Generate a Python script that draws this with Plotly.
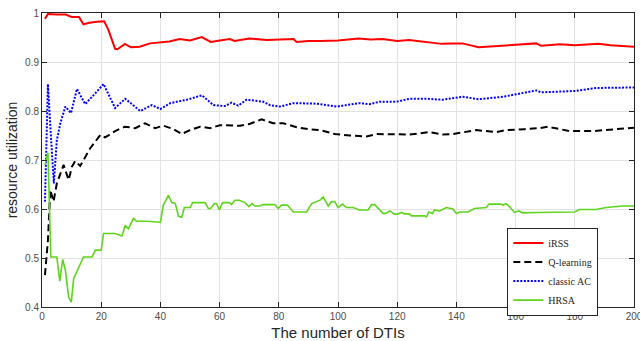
import plotly.graph_objects as go

# ---- data (x = number of DTIs, y = resource utilization) ----
irss_points = [
    (1, 0.988), (2, 0.998), (5, 0.997), (8, 0.997), (10, 0.992), (12.5, 0.992), (14, 0.977),
    (16, 0.980), (18.5, 0.982), (21, 0.983), (22.4, 0.966), (24.7, 0.927), (25.5, 0.926),
    (28, 0.937), (30, 0.930), (33, 0.931), (36.5, 0.938), (40, 0.940), (43, 0.942),
    (46.5, 0.947), (48.5, 0.946), (50, 0.944), (54, 0.951), (57, 0.941), (60, 0.944),
    (63.5, 0.947), (65, 0.943), (70, 0.948), (76, 0.945), (80, 0.946), (85, 0.947),
    (86, 0.941), (90, 0.943), (94, 0.943), (100, 0.944), (107, 0.948), (111, 0.946),
    (115, 0.947), (120, 0.943), (124, 0.945), (129, 0.941), (135, 0.937), (139, 0.938),
    (142, 0.938), (147.5, 0.930), (156, 0.933), (167, 0.938), (168.6, 0.933), (175, 0.936),
    (180, 0.934), (188, 0.937), (192, 0.934), (196, 0.933), (200, 0.931),
]

qlearning_points = [
    (1, 0.465), (2, 0.536), (2.8, 0.639), (3.9, 0.615), (5, 0.652), (6.7, 0.680), (7.3, 0.690),
    (9, 0.659), (10.1, 0.686), (11.2, 0.698), (12.9, 0.688), (16.3, 0.724), (19.7, 0.751),
    (21.3, 0.746), (24.7, 0.759), (28, 0.768), (31.5, 0.765), (34.8, 0.775), (38.2, 0.765),
    (41, 0.770), (44.4, 0.763), (47.2, 0.753), (50, 0.761), (53.4, 0.768), (56.8, 0.765),
    (60.1, 0.771), (66.9, 0.770), (70.3, 0.774), (74.2, 0.783), (78.1, 0.775), (81.5, 0.775),
    (86, 0.767), (89.9, 0.763), (94, 0.761), (98.9, 0.753), (104, 0.750), (109.6, 0.748),
    (113, 0.753), (119.7, 0.752), (124.2, 0.752), (130.9, 0.757), (135.4, 0.752),
    (138.8, 0.753), (142.2, 0.756), (146.7, 0.761), (153.5, 0.757), (156.8, 0.761),
    (163, 0.763), (168, 0.765), (170.8, 0.768), (178.2, 0.759), (186, 0.759), (192.8, 0.763),
    (200, 0.766),
]

classic_ac_points = [
    (1, 0.615), (2, 0.855), (3, 0.750), (4, 0.652), (5, 0.740), (6.2, 0.775), (7.9, 0.809),
    (9.8, 0.796), (11.8, 0.845), (14.6, 0.814), (18, 0.836), (20.8, 0.855), (24.7, 0.806),
    (28.1, 0.825), (33.2, 0.800), (37.1, 0.812), (40, 0.804), (43.3, 0.816), (48.9, 0.823),
    (54, 0.832), (57.9, 0.812), (61.8, 0.810), (64, 0.817), (66.3, 0.811), (69.1, 0.823),
    (74.7, 0.819), (77, 0.812), (80.4, 0.809), (84.9, 0.816), (92.7, 0.815), (99.5, 0.809),
    (107.3, 0.816), (110.7, 0.814), (114.1, 0.819), (119.7, 0.819), (124.2, 0.825),
    (129.8, 0.825), (135.4, 0.823), (142.2, 0.829), (147.5, 0.824), (155.7, 0.829),
    (167, 0.842), (168.6, 0.838), (180.4, 0.841), (187.2, 0.847), (200, 0.848),
]

hrsa_points = [
    (1, 0.690), (2, 0.715), (3, 0.502), (5, 0.502), (6, 0.453), (7, 0.497), (7.9, 0.475),
    (9, 0.420), (9.9, 0.410), (10.7, 0.458), (12.3, 0.479), (14, 0.502), (16.9, 0.502),
    (18, 0.516), (20, 0.516), (20.8, 0.550), (24.7, 0.550), (27, 0.545), (28.1, 0.566),
    (29.2, 0.560), (30.9, 0.581), (32, 0.575), (35.4, 0.575), (40, 0.573), (41, 0.608),
    (42.7, 0.628), (43.8, 0.613), (45, 0.612), (46.1, 0.585), (47.2, 0.583), (48.1, 0.603),
    (50, 0.603), (50.9, 0.613), (55.1, 0.613), (56.2, 0.601), (57, 0.601), (58.2, 0.611),
    (59, 0.611), (59.9, 0.598), (61, 0.613), (63.3, 0.613), (64, 0.609), (65.2, 0.618),
    (66.6, 0.618), (68.6, 0.613), (69.9, 0.605), (71, 0.611), (71.9, 0.606), (73.6, 0.606),
    (74.7, 0.609), (78.7, 0.609), (79.8, 0.601), (80.9, 0.608), (82.9, 0.608), (84.9, 0.594),
    (89.4, 0.594), (91.1, 0.611), (93.9, 0.618), (95, 0.625), (96.7, 0.606), (97.8, 0.615),
    (98.9, 0.615), (100, 0.603), (101.5, 0.610), (102.8, 0.603), (105.1, 0.603),
    (107.1, 0.598), (110.2, 0.598), (111.3, 0.609), (112.4, 0.609), (115.2, 0.591),
    (116.1, 0.591), (117.5, 0.596), (119.2, 0.589), (120.3, 0.590), (121.4, 0.593),
    (122.5, 0.590), (124.2, 0.590), (124.8, 0.586), (129.3, 0.586), (129.9, 0.584),
    (130.7, 0.594), (131.9, 0.591), (132.6, 0.598), (134.3, 0.596), (136.6, 0.603),
    (138.8, 0.600), (140, 0.591), (141.1, 0.594), (143.9, 0.594), (146.1, 0.601),
    (150.1, 0.603), (151, 0.610), (155.1, 0.610), (155.7, 0.608), (156.8, 0.611),
    (157.9, 0.605), (159.6, 0.593), (161.1, 0.596), (162.4, 0.592), (167, 0.593),
    (179.9, 0.594), (181.6, 0.599), (187.2, 0.599), (190.6, 0.603), (196.2, 0.606),
    (200, 0.606),
]

x_ticks = [0, 20, 40, 60, 80, 100, 120, 140, 160, 180, 200]
y_ticks = [0.4, 0.5, 0.6, 0.7, 0.8, 0.9, 1.0]
y_tick_labels = ["0.4", "0.5", "0.6", "0.7", "0.8", "0.9", "1"]

series = [
    ("iRSS", irss_points, dict(color="#ff0000", width=2)),
    ("Q-learning", qlearning_points, dict(color="#000000", width=2, dash="7px,4px")),
    ("classic AC", classic_ac_points, dict(color="#0000ff", width=2, dash="2px,1.5px")),
    ("HRSA", hrsa_points, dict(color="#5fd41e", width=1.6)),
]

fig = go.Figure()
for name, pts, line in series:
    xs = [p[0] for p in pts]
    ys = [p[1] for p in pts]
    fig.add_trace(go.Scatter(x=xs, y=ys, mode="lines", name=name, line=line))

axis_common = dict(
    showline=True, linecolor="#262626", linewidth=1, mirror="ticks",
    ticks="inside", ticklen=5, tickcolor="#262626",
    showgrid=True, gridcolor="#e3e3e3", gridwidth=1, zeroline=False,
    ticklabeloverflow="allow", automargin=False,
    tickfont=dict(family="Liberation Sans, Arial", size=10, color="#4d4d4d"),
)

fig.update_layout(
    width=640, height=341,
    margin=dict(l=42, r=6, t=13, b=34),
    paper_bgcolor="white", plot_bgcolor="white",
    font=dict(family="Liberation Sans, Arial"),
    xaxis=dict(range=[0, 200], tickvals=x_ticks,
               title=dict(text="The number of DTIs", standoff=6,
                          font=dict(size=15, color="#262626")),
               **axis_common),
    yaxis=dict(range=[0.4, 1.0], tickvals=y_ticks, ticktext=y_tick_labels,
               title=dict(text="resource utilization", standoff=4,
                          font=dict(size=14, color="#262626")),
               **axis_common),
    legend=dict(x=0.786, y=0.27, xanchor="left", yanchor="top",
                bgcolor="white", bordercolor="#262626", borderwidth=1,
                font=dict(family="Liberation Serif, Times New Roman", size=10, color="#262626"),
                itemwidth=30, tracegroupgap=0),
    showlegend=True,
)

fig.write_html("out.html")
